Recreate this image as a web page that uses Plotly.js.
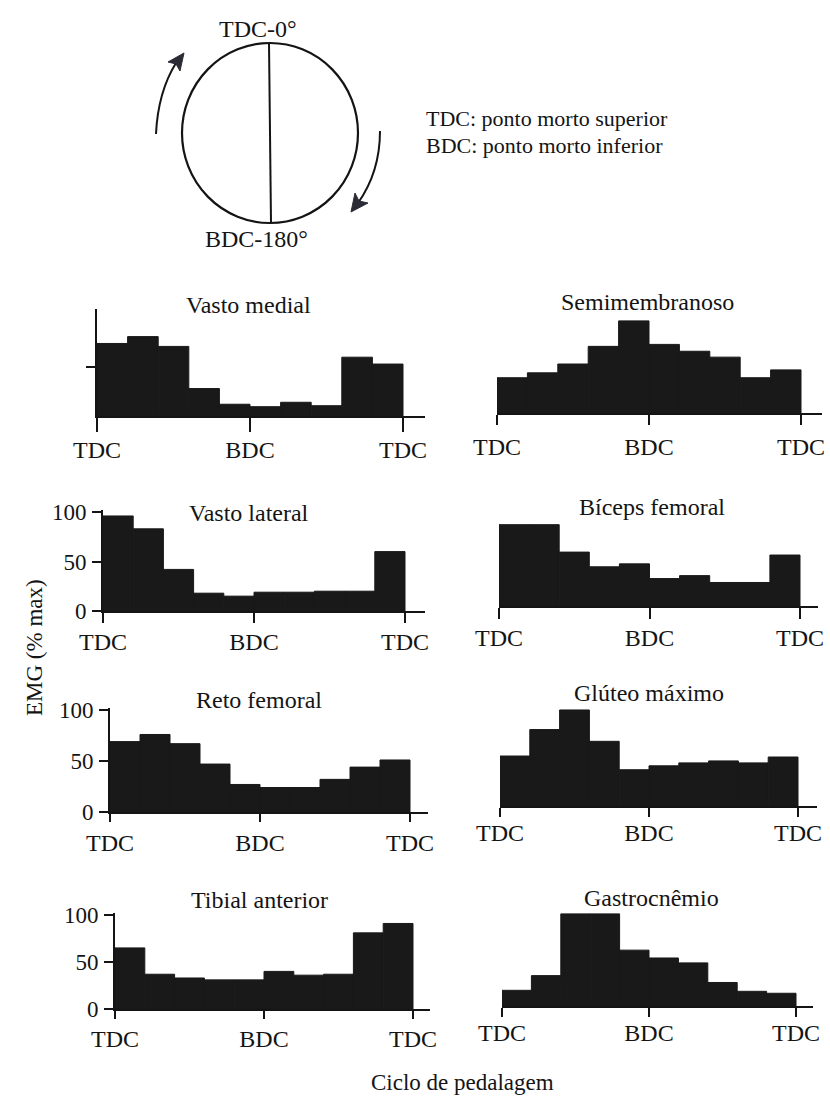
<!DOCTYPE html>
<html>
<head>
<meta charset="utf-8">
<script src="https://cdn.plot.ly/plotly-3.0.1.min.js"></script>
<style>
  html, body { margin: 0; padding: 0; background: #ffffff; }
  #chart { width: 830px; height: 1100px; }
</style>
</head>
<body>
<div id="chart"></div>
<script>
// ---------- DATA ----------
const muscleNames = ['Vasto medial', 'Semimembranoso', 'Vasto lateral', 'Bíceps femoral',
                     'Reto femoral', 'Glúteo máximo', 'Tibial anterior', 'Gastrocnêmio'];
// crank angle bin centres (degrees), 10 bins of 36° over a full cycle TDC -> BDC -> TDC
const binCenters = [18, 54, 90, 126, 162, 198, 234, 270, 306, 342];
const binWidth = 36;
const cycleTickVals = [0, 180, 360];
const cycleTickText = ['TDC', 'BDC', 'TDC'];
const emgTickVals = [0, 50, 100];
const emgTickText = ['0', '50', '100'];

const vastoMedial    = [74, 81, 71, 28, 12, 9.5, 14, 10.5, 60, 53];
const semimembranoso = [36, 41, 50, 68, 94, 70, 63, 57, 36, 44];
const vastoLateral   = [96, 83, 42, 18, 15, 19, 19, 20, 20, 60];
const bicepsFemoral  = [83, 83, 55, 40, 43, 28, 31, 24, 24, 52];
const retoFemoral    = [69, 76, 67, 47, 27, 24, 24, 32, 44, 51];
const gluteoMaximo   = [51, 78, 98, 66, 37, 41, 44, 46, 44, 50];
const tibialAnterior = [65, 37, 33, 31, 31, 40, 36, 37, 81, 91];
const gastrocnemio   = [16, 31, 94, 94, 57, 49, 44, 24, 15, 13];

const seriesList = [vastoMedial, semimembranoso, vastoLateral, bicepsFemoral,
                    retoFemoral, gluteoMaximo, tibialAnterior, gastrocnemio];

// ---------- LAYOUT GEOMETRY (pixels) ----------
const W = 830, H = 1100;
const FONT = 'Liberation Serif, DejaVu Serif, serif';
const INK = '#141414';
const BAR = '#191919';
const px = x => x / W;
const py = y => 1 - y / H;

// mode: 'tick' (axis with single mid tick), 'labels' (0/50/100), 'none'
const panelGeom = [
  {x0: 97,  x360: 403, xend: 425, base: 416,  y100: 318, top: 309, mode: 'tick',   tx: 248, ty: 305, tl: 14, so: -3},
  {x0: 497, x360: 801, xend: 822, base: 413,  y100: 315, top: 315, mode: 'none',   tx: 647, ty: 302, tl: 10, so: 1},
  {x0: 103, x360: 405, xend: 425, base: 611,  y100: 512, top: 510, mode: 'labels', tx: 249, ty: 513, tl: 10, so: -2},
  {x0: 499, x360: 800, xend: 818, base: 606,  y100: 508, top: 508, mode: 'none',   tx: 652, ty: 507, tl: 11, so: -2},
  {x0: 110, x360: 410, xend: 428, base: 812,  y100: 710, top: 708, mode: 'labels', tx: 259, ty: 700, tl: 8,  so: 0},
  {x0: 500, x360: 798, xend: 817, base: 806,  y100: 708, top: 708, mode: 'none',   tx: 649, ty: 693, tl: 9,  so: -5},
  {x0: 115, x360: 413, xend: 430, base: 1009, y100: 915, top: 913, mode: 'labels', tx: 259, ty: 900, tl: 8,  so: -1},
  {x0: 502, x360: 796, xend: 813, base: 1006, y100: 908, top: 908, mode: 'none',   tx: 651, ty: 898, tl: 9,  so: -5}
];

const traces = [];
const layout = {
  width: W, height: H,
  margin: {l: 0, r: 0, t: 0, b: 0},
  paper_bgcolor: '#ffffff',
  plot_bgcolor: 'rgba(0,0,0,0)',
  showlegend: false,
  bargap: 0,
  font: {family: FONT, color: INK},
  annotations: [],
  shapes: []
};

panelGeom.forEach((g, i) => {
  const n = i + 1;
  const xa = 'xaxis' + (n === 1 ? '' : n);
  const ya = 'yaxis' + (n === 1 ? '' : n);
  const xr = 'x' + (n === 1 ? '' : n);
  const yr = 'y' + (n === 1 ? '' : n);

  traces.push({
    type: 'bar',
    x: binCenters,
    y: seriesList[i],
    width: binWidth,
    xaxis: xr, yaxis: yr,
    marker: {color: BAR, line: {color: BAR, width: 1}},
    hoverinfo: 'skip'
  });

  layout[xa] = {
    domain: [px(g.x0), px(g.xend)],
    range: [0, 360 * (g.xend - g.x0) / (g.x360 - g.x0)],
    anchor: yr,
    showline: true, linewidth: 2, linecolor: INK,
    ticks: 'outside', ticklen: g.tl, tickwidth: 2, tickcolor: INK,
    tickmode: 'array', tickvals: cycleTickVals, ticktext: cycleTickText,
    tickfont: {family: FONT, size: 24, color: INK},
    ticklabelstandoff: g.so,
    showgrid: false, zeroline: false, fixedrange: true
  };

  const yBase = {
    domain: [py(g.base), py(g.top)],
    range: [0, 100 * (g.base - g.top) / (g.base - g.y100)],
    anchor: xr,
    showgrid: false, zeroline: false, fixedrange: true
  };
  if (g.mode === 'none') {
    yBase.visible = false;
  } else {
    Object.assign(yBase, {
      showline: true, linewidth: 2, linecolor: INK,
      ticks: 'outside', ticklen: 9, tickwidth: 2, tickcolor: INK,
      tickmode: 'array',
      tickvals: g.mode === 'tick' ? [50] : emgTickVals,
      ticktext: g.mode === 'tick' ? [''] : emgTickText,
      showticklabels: g.mode !== 'tick',
      tickfont: {family: FONT, size: 23, color: INK},
      ticklabelstandoff: 1
    });
  }
  layout[ya] = yBase;

  layout.annotations.push({
    xref: 'paper', yref: 'paper', x: px(g.tx), y: py(g.ty),
    xanchor: 'center', yanchor: 'middle', showarrow: false,
    text: muscleNames[i], font: {family: FONT, size: 24, color: INK}
  });
});

// ---------- axis titles ----------
layout.annotations.push({
  xref: 'paper', yref: 'paper', x: px(34), y: py(648),
  xanchor: 'center', yanchor: 'middle', showarrow: false, textangle: -90,
  text: 'EMG (% max)', font: {family: FONT, size: 23, color: INK}
});
layout.annotations.push({
  xref: 'paper', yref: 'paper', x: px(462), y: py(1082),
  xanchor: 'center', yanchor: 'middle', showarrow: false,
  text: 'Ciclo de pedalagem', font: {family: FONT, size: 23, color: INK}
});

// ---------- crank diagram ----------
layout.shapes.push({
  type: 'circle', xref: 'paper', yref: 'paper',
  x0: px(182), x1: px(358), y0: py(223), y1: py(43),
  line: {color: INK, width: 2.2}
});
layout.shapes.push({
  type: 'line', xref: 'paper', yref: 'paper',
  x0: px(269), x1: px(271), y0: py(43), y1: py(223),
  line: {color: INK, width: 2}
});
function pathPx(cmds) {
  return cmds.map(c => {
    const L = c[0];
    const pts = [];
    for (let k = 1; k < c.length; k += 2) pts.push(px(c[k]).toFixed(5) + ',' + py(c[k + 1]).toFixed(5));
    return L + pts.join(' ');
  }).join(' ');
}
// left (upward) arrow
layout.shapes.push({
  type: 'path', xref: 'paper', yref: 'paper',
  path: pathPx([['M', 156, 134], ['Q', 158, 92, 176, 63]]),
  line: {color: INK, width: 2}
});
layout.shapes.push({
  type: 'path', xref: 'paper', yref: 'paper',
  path: pathPx([['M', 184, 53], ['L', 180, 71], ['L', 176, 64], ['L', 168, 62], ['Z']]),
  fillcolor: '#2b2b36', line: {color: '#2b2b36', width: 1}
});
// right (downward) arrow
layout.shapes.push({
  type: 'path', xref: 'paper', yref: 'paper',
  path: pathPx([['M', 380, 131], ['Q', 380, 172, 358, 203]]),
  line: {color: INK, width: 2}
});
layout.shapes.push({
  type: 'path', xref: 'paper', yref: 'paper',
  path: pathPx([['M', 351, 212], ['L', 355, 193], ['L', 359, 201], ['L', 368, 203], ['Z']]),
  fillcolor: '#2b2b36', line: {color: '#2b2b36', width: 1}
});
layout.annotations.push({
  xref: 'paper', yref: 'paper', x: px(258), y: py(29),
  xanchor: 'center', yanchor: 'middle', showarrow: false,
  text: 'TDC-0°', font: {family: FONT, size: 24, color: INK}
});
layout.annotations.push({
  xref: 'paper', yref: 'paper', x: px(256), y: py(239),
  xanchor: 'center', yanchor: 'middle', showarrow: false,
  text: 'BDC-180°', font: {family: FONT, size: 24, color: INK}
});
layout.annotations.push({
  xref: 'paper', yref: 'paper', x: px(424), y: py(118),
  xanchor: 'left', yanchor: 'middle', showarrow: false,
  text: 'TDC: ponto morto superior', font: {family: FONT, size: 22, color: INK}
});
layout.annotations.push({
  xref: 'paper', yref: 'paper', x: px(424), y: py(145),
  xanchor: 'left', yanchor: 'middle', showarrow: false,
  text: 'BDC: ponto morto inferior', font: {family: FONT, size: 22, color: INK}
});

Plotly.newPlot('chart', traces, layout, {staticPlot: true, displayModeBar: false});
</script>
</body>
</html>
